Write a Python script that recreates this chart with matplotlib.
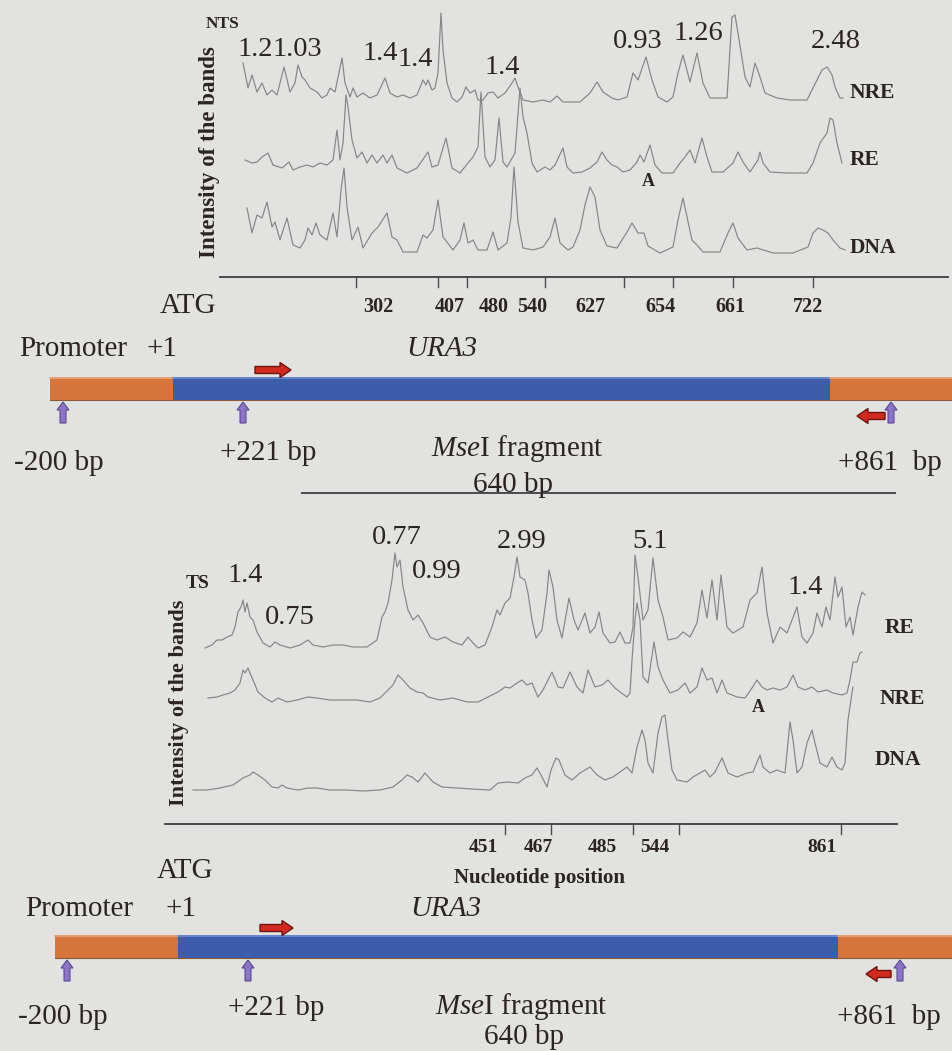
import matplotlib
matplotlib.use("Agg")
import numpy as np
import matplotlib.pyplot as plt
from matplotlib.patches import Rectangle, Polygon

plt.rcParams["mathtext.fontset"] = "custom"
plt.rcParams["mathtext.rm"] = "Liberation Serif"
plt.rcParams["mathtext.it"] = "Liberation Serif:italic"

# Densitometer traces, (x, y) in picture pixels.
top_nre = [(243,63),(248,88),(252,75),(257,92),(262,83),(267,95),(272,90),(277,95),(284,67),(290,92),(295,83),(298,65),(302,77),(305,80),(310,88),(317,92),(322,98),(327,95),(330,88),(335,92),(342,58),(345,83),(350,97),(353,88),(357,97),(363,93),(370,98),(377,95),(385,78),(390,93),(397,97),(403,95),(410,98),(417,95),(423,80),(426,85),(428,80),(432,90),(435,88),(438,73),(441,13),(443,50),(447,83),(452,98),(457,102),(462,97),(466,87),(470,93),(475,90),(478,100),(483,100),(488,93),(493,92),(498,98),(505,93),(512,83),(515,78),(518,87),(523,100),(533,102),(543,100),(550,102),(557,96),(563,102),(580,102),(590,93),(597,82),(603,92),(612,98),(618,100),(627,97),(633,73),(638,80),(646,57),(652,80),(658,97),(667,102),(673,97),(678,73),(683,55),(690,82),(697,53),(703,83),(710,98),(727,98),(732,17),(735,15),(738,33),(745,77),(750,87),(755,63),(760,77),(765,93),(777,98),(790,100),(807,100),(812,90),(817,80),(822,70),(827,67),(832,75),(835,87),(840,98),(843,98)]
top_re = [(245,160),(252,163),(257,162),(262,157),(268,153),(273,165),(282,168),(289,162),(293,170),(300,167),(307,165),(313,167),(320,163),(327,165),(333,160),(337,130),(340,160),(343,143),(346,95),(348,107),(352,140),(357,158),(362,152),(367,163),(372,155),(377,163),(383,155),(387,163),(392,155),(397,168),(407,173),(417,168),(428,152),(432,167),(438,165),(446,138),(452,168),(460,173),(468,163),(473,157),(478,147),(481,92),(485,157),(490,167),(495,160),(499,118),(503,162),(507,167),(515,153),(520,88),(523,117),(527,133),(532,163),(537,172),(545,167),(550,170),(555,165),(563,148),(567,167),(573,173),(582,172),(590,168),(597,162),(602,152),(607,160),(612,165),(617,167),(623,172),(630,170),(637,162),(640,155),(644,162),(650,145),(655,165),(662,173),(673,173),(680,163),(685,157),(690,150),(695,163),(702,138),(707,157),(712,172),(723,172),(733,163),(738,152),(743,162),(750,172),(758,160),(760,152),(763,163),(770,172),(787,173),(807,173),(813,163),(820,143),(827,133),(830,118),(833,120),(837,143),(842,163)]
top_dna = [(247,208),(252,233),(257,215),(262,218),(267,202),(272,227),(275,222),(280,240),(287,218),(293,245),(300,248),(305,240),(308,228),(312,235),(316,223),(320,235),(327,240),(333,213),(337,237),(341,190),(344,168),(347,207),(352,240),(358,227),(363,248),(372,233),(378,227),(387,213),(392,237),(397,240),(403,252),(417,252),(423,235),(427,238),(433,230),(438,200),(443,237),(453,250),(460,240),(464,223),(468,243),(473,240),(478,250),(487,250),(493,232),(498,250),(507,243),(511,217),(514,167),(518,222),(523,248),(533,250),(543,247),(550,237),(555,218),(560,243),(568,250),(573,247),(580,230),(585,205),(590,187),(595,197),(600,230),(607,246),(617,248),(627,232),(632,223),(638,233),(644,233),(648,246),(660,253),(673,247),(678,220),(683,198),(687,217),(692,240),(697,245),(703,252),(720,252),(728,233),(733,223),(738,238),(747,250),(757,248),(773,253),(793,253),(808,247),(813,233),(818,228),(823,230),(828,233),(833,240),(840,248),(845,250)]

bot_re = [(205,648),(212,645),(217,640),(222,640),(227,637),(232,635),(235,627),(238,612),(241,607),(243,600),(245,612),(247,603),(250,617),(253,620),(257,632),(263,643),(270,647),(275,642),(280,645),(290,648),(300,645),(308,640),(313,645),(323,647),(333,645),(343,645),(353,647),(367,647),(377,640),(382,617),(385,612),(388,603),(392,580),(395,553),(397,567),(400,560),(403,587),(408,610),(413,620),(418,615),(423,623),(430,637),(437,640),(445,637),(453,642),(462,645),(468,637),(473,643),(478,648),(485,645),(492,627),(497,610),(500,615),(505,603),(510,598),(514,577),(517,557),(520,577),(525,580),(528,593),(532,620),(536,638),(542,630),(547,593),(549,570),(553,587),(557,620),(562,638),(569,598),(574,620),(578,630),(585,613),(590,633),(595,627),(599,612),(603,633),(610,643),(615,642),(620,632),(625,643),(630,643),(633,627),(635,555),(638,577),(643,620),(648,610),(653,558),(658,600),(663,617),(668,640),(677,638),(683,632),(690,637),(697,623),(702,590),(707,618),(712,580),(717,620),(721,575),(727,627),(733,633),(743,627),(750,600),(757,593),(762,567),(767,613),(773,643),(780,627),(787,633),(797,607),(802,637),(807,643),(813,633),(817,613),(822,627),(826,607),(830,620),(835,577),(838,597),(842,587),(846,627),(850,617),(853,635),(858,607),(862,592),(865,595)]
bot_nre = [(208,698),(217,697),(223,695),(230,693),(235,690),(240,683),(243,670),(245,673),(248,668),(250,673),(253,680),(258,692),(265,698),(272,702),(278,698),(287,702),(297,700),(308,697),(317,698),(330,700),(343,700),(357,700),(370,702),(380,698),(388,690),(393,685),(398,675),(403,680),(410,688),(417,692),(423,693),(428,697),(440,700),(453,698),(467,702),(478,702),(488,697),(498,692),(505,687),(510,688),(517,683),(522,680),(527,685),(532,683),(538,697),(543,690),(552,672),(558,687),(563,688),(570,672),(577,687),(583,693),(588,670),(595,687),(602,685),(608,680),(615,688),(620,692),(627,697),(630,693),(632,660),(635,620),(637,603),(640,620),(643,677),(648,683),(654,642),(658,667),(663,680),(670,693),(678,690),(685,683),(690,693),(697,687),(702,668),(707,680),(712,678),(717,693),(722,680),(727,693),(737,697),(745,698),(752,688),(757,680),(762,687),(767,690),(773,688),(780,690),(787,687),(793,675),(798,687),(805,690),(812,687),(818,692),(827,690),(833,693),(842,695),(847,693),(850,680),(853,662),(857,662),(860,653),(862,652)]
bot_dna = [(193,790),(207,790),(220,788),(233,785),(243,778),(250,775),(253,772),(258,775),(265,780),(272,787),(278,788),(282,785),(287,788),(298,790),(308,788),(317,788),(330,790),(347,790),(363,791),(380,790),(393,787),(402,780),(407,775),(412,777),(418,782),(425,773),(433,782),(442,787),(457,788),(472,789),(490,790),(498,783),(508,782),(518,783),(525,778),(532,775),(537,768),(542,777),(547,787),(551,770),(556,758),(559,760),(565,775),(572,780),(580,773),(590,767),(597,775),(605,780),(613,777),(620,772),(627,767),(632,773),(637,747),(642,730),(645,740),(648,763),(653,773),(658,733),(662,717),(665,715),(668,740),(672,770),(677,780),(687,782),(693,777),(700,773),(705,770),(710,777),(715,772),(722,758),(728,773),(737,777),(747,773),(753,772),(760,755),(763,767),(770,773),(777,770),(785,773),(790,722),(793,740),(797,773),(802,767),(807,743),(812,730),(815,743),(820,763),(827,767),(832,757),(837,767),(842,770),(845,763),(848,720),(852,693),(853,687)]

# Axis ticks and their labels
top_ticks = [356, 438, 467, 545, 624, 673, 733, 813]
top_tick_labels = ["302", "407", "480", "540", "627", "654", "661", "722"]
top_label_x = [378, 450, 494, 532, 590, 660, 730, 808]
bot_ticks = [505, 551, 633, 679, 841]
bot_tick_labels = ["451", "467", "485", "544", "861"]
bot_label_x = [483, 538, 602, 655, 822]

# Ratio labels over the peaks
top_ratios = [("1.2", 255, 49), ("1.03", 297, 49), ("1.4", 380, 53), ("1.4", 415, 60),
              ("1.4", 502, 67), ("0.93", 638, 41), ("1.26", 698, 33), ("2.48", 836, 42)]
bot_ratios = [("1.4", 245, 575), ("0.75", 290, 617), ("0.77", 397, 537), ("0.99", 437, 572),
              ("2.99", 522, 542), ("5.1", 650, 542), ("1.4", 805, 587)]

bg = "#e2e2e0"
trace_col = "#858585"
text_col = "#2b2424"
serif = ["Liberation Serif", "DejaVu Serif"]

fig = plt.figure(figsize=(9.53, 10.51), dpi=100, facecolor=bg)
ax = fig.add_axes([0, 0, 1, 1])
ax.set_xlim(0, 953)
ax.set_ylim(1051, 0)
ax.axis("off")
ax.set_facecolor(bg)


def trace(pts):
    xs, ys = zip(*pts)
    ax.plot(xs, ys, color=trace_col, lw=0.85, solid_joinstyle="round")


for t in [top_nre, top_re, top_dna, bot_re, bot_nre, bot_dna]:
    trace(t)


def axis_line(x0, x1, y, ticks):
    ax.plot([x0, x1], [y, y], color="#4a4a4a", lw=1.4)
    for tx in ticks:
        ax.plot([tx, tx], [y, y + 10], color="#4a4a4a", lw=1.0)


axis_line(220, 948, 277, top_ticks)
axis_line(165, 897, 824, bot_ticks)

for lab, lx in zip(top_tick_labels, top_label_x):
    ax.text(lx, 307, lab, ha="center", va="center", family=serif,
            weight="bold", fontsize=14.5, color=text_col)
for lab, lx in zip(bot_tick_labels, bot_label_x):
    ax.text(lx, 848, lab, ha="center", va="center", family=serif,
            weight="bold", fontsize=14, color=text_col)
ax.text(540, 878, "Nucleotide position", ha="center", va="center", family=serif,
        weight="bold", fontsize=15, color=text_col)

for lab, lx, ly in top_ratios + bot_ratios:
    ax.text(lx, ly, lab, ha="center", va="center", family=serif,
            fontsize=20.5, color=text_col)

# Lane labels
bold = dict(family=serif, weight="bold", color=text_col, va="center")
ax.text(223, 24, "NTS", ha="center", fontsize=12.5, **bold)
ax.text(198, 584, "TS", ha="center", fontsize=14, **bold)
ax.text(850, 93, "NRE", ha="left", fontsize=15.5, **bold)
ax.text(850, 160, "RE", ha="left", fontsize=15.5, **bold)
ax.text(850, 248, "DNA", ha="left", fontsize=15.5, **bold)
ax.text(648, 182, "A", ha="center", fontsize=13, **bold)
ax.text(885, 628, "RE", ha="left", fontsize=15.5, **bold)
ax.text(880, 699, "NRE", ha="left", fontsize=15.5, **bold)
ax.text(875, 760, "DNA", ha="left", fontsize=15.5, **bold)
ax.text(758, 707, "A", ha="center", fontsize=13, **bold)
ax.text(210, 152, "Intensity of the bands", rotation=90, ha="center", fontsize=16.5, **bold)
ax.text(179, 703, "Intensity of the bands", rotation=90, ha="center", fontsize=16, **bold)

# Divider under the first diagram
ax.plot([302, 895], [493, 493], color="#4a4a4a", lw=1.4)


def right_arrow(x0, x1, yc, flip=False):
    h_body, h_head, head_len = 7, 15, 11
    pts = [(0, -h_body / 2), (x1 - x0 - head_len, -h_body / 2), (x1 - x0 - head_len, -h_head / 2),
           (x1 - x0, 0), (x1 - x0 - head_len, h_head / 2), (x1 - x0 - head_len, h_body / 2), (0, h_body / 2)]
    if flip:
        pts = [(x1 - x0 - px, py) for px, py in pts]
    pts = [(x0 + px, yc + py) for px, py in pts]
    ax.add_patch(Polygon(pts, closed=True, facecolor="#d22a1e", edgecolor="#6e1410", lw=1.0, zorder=5))


def up_arrow(xc, y_top, y_bot):
    w_shaft, w_head, head_len = 6, 12, 8
    pts = [(xc - w_shaft / 2, y_bot), (xc - w_shaft / 2, y_top + head_len), (xc - w_head / 2, y_top + head_len),
           (xc, y_top), (xc + w_head / 2, y_top + head_len), (xc + w_shaft / 2, y_top + head_len),
           (xc + w_shaft / 2, y_bot)]
    ax.add_patch(Polygon(pts, closed=True, facecolor="#8c74c8", edgecolor="#5a4a90", lw=0.8, zorder=5))


def gene_map(y0, x_start, x_blue, x_orange, arrows_x, promoter_xy, right_arr, left_arr):
    y1 = y0 + 23
    ax.add_patch(Rectangle((x_start, y0), x_blue - x_start, y1 - y0, facecolor="#d5753b", edgecolor="none"))
    ax.add_patch(Rectangle((x_blue, y0), x_orange - x_blue, y1 - y0, facecolor="#3c5dab", edgecolor="none"))
    ax.add_patch(Rectangle((x_orange, y0), 953 - x_orange, y1 - y0, facecolor="#d5753b", edgecolor="none"))
    ax.plot([x_start, x_blue], [y0 + 1, y0 + 1], color="#e9a77c", lw=1.2)
    ax.plot([x_blue, x_orange], [y0 + 1, y0 + 1], color="#6f8cd0", lw=1.2)
    ax.plot([x_orange, 953], [y0 + 1, y0 + 1], color="#e9a77c", lw=1.2)
    ax.plot([x_start, 953], [y1, y1], color="#8a5a3a", lw=0.8)
    for xa in arrows_x:
        up_arrow(xa, y1 + 2, y1 + 23)
    right_arrow(right_arr[0], right_arr[1], y0 - 7)
    right_arrow(left_arr[0], left_arr[1], y1 + 16, flip=True)
    ax.text(promoter_xy[0], promoter_xy[1], "Promoter", ha="center", **reg)


reg = dict(family=serif, fontsize=21, color=text_col, va="center")

# Upper gene map
gene_map(377, 50, 173, 830, [63, 243, 891], (73, 349), (255, 291), (857, 885))
ax.text(188, 306, "ATG", ha="center", **reg)
ax.text(162, 349, "+1", ha="center", **reg)
ax.text(442, 349, "URA3", ha="center", style="italic", **reg)
ax.text(59, 463, "-200 bp", ha="center", **reg)
ax.text(268, 453, "+221 bp", ha="center", **reg)
ax.text(517, 448, r"$\mathit{Mse}$I fragment", ha="center", **reg)
ax.text(513, 485, "640 bp", ha="center", **reg)
ax.text(890, 463, "+861  bp", ha="center", **reg)

# Lower gene map
gene_map(935, 55, 178, 838, [67, 248, 900], (79, 909), (260, 293), (866, 891))
ax.text(185, 871, "ATG", ha="center", **reg)
ax.text(181, 909, "+1", ha="center", **reg)
ax.text(446, 909, "URA3", ha="center", style="italic", **reg)
ax.text(63, 1017, "-200 bp", ha="center", **reg)
ax.text(276, 1008, "+221 bp", ha="center", **reg)
ax.text(521, 1006, r"$\mathit{Mse}$I fragment", ha="center", **reg)
ax.text(524, 1037, "640 bp", ha="center", **reg)
ax.text(889, 1017, "+861  bp", ha="center", **reg)

fig.savefig("out.png", dpi=100, facecolor=bg)
